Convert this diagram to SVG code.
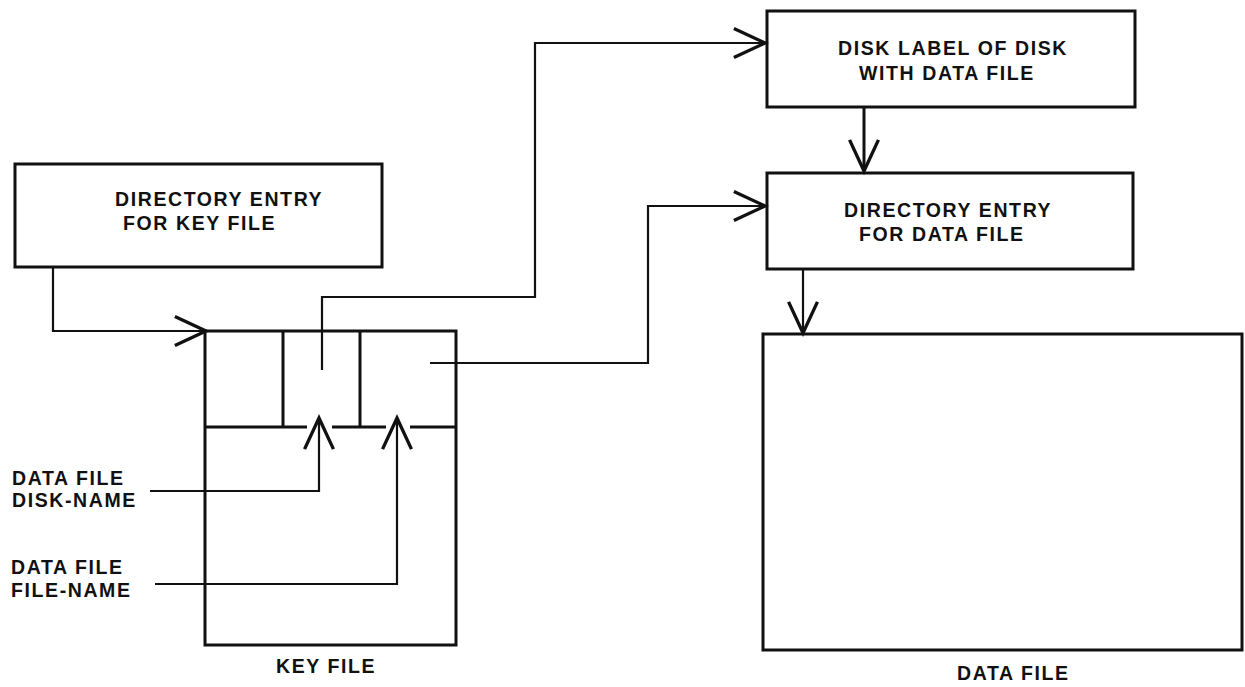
<svg xmlns="http://www.w3.org/2000/svg" width="1245" height="687" viewBox="0 0 1245 687">
  <style>
    .box { fill: none; stroke: #111; stroke-width: 3; }
    .wire { fill: none; stroke: #111; stroke-width: 2.2; }
    .lbl { font-family: "Liberation Sans", Arial, sans-serif; font-weight: bold; font-size: 19.5px; letter-spacing: 1.6px; fill: #111; }
  </style>
  <defs>
    <marker id="arr" markerUnits="userSpaceOnUse" markerWidth="40" markerHeight="40" viewBox="-32 -16 36 32" refX="0" refY="0" orient="auto" overflow="visible">
      <path d="M -28 -13 L 0 0 L -28 13" fill="none" stroke="#111" stroke-width="3"/>
    </marker>
  </defs>
  <rect width="1245" height="687" fill="#fff"/>

  <g id="dir-key">
    <rect class="box" x="15" y="164" width="367" height="103"/>
    <text class="lbl" x="115" y="206">DIRECTORY ENTRY</text>
    <text class="lbl" x="123" y="230">FOR KEY FILE</text>
  </g>

  <g id="disk-label">
    <rect class="box" x="767" y="11" width="368" height="96"/>
    <text class="lbl" x="838" y="55">DISK LABEL OF DISK</text>
    <text class="lbl" x="859" y="80">WITH DATA FILE</text>
  </g>

  <g id="dir-data">
    <rect class="box" x="767" y="173" width="366" height="96"/>
    <text class="lbl" x="844" y="217">DIRECTORY ENTRY</text>
    <text class="lbl" x="859" y="241">FOR DATA FILE</text>
  </g>

  <g id="key-file">
    <rect class="box" x="205" y="331" width="251" height="314"/>
    <line class="box" x1="283" y1="331" x2="283" y2="427"/>
    <line class="box" x1="360" y1="331" x2="360" y2="427"/>
    <line class="box" x1="205" y1="427" x2="307" y2="427"/>
    <line class="box" x1="332" y1="427" x2="386" y2="427"/>
    <line class="box" x1="410" y1="427" x2="456" y2="427"/>
    <text class="lbl" x="276" y="673">KEY FILE</text>
  </g>

  <g id="data-file">
    <rect class="box" x="763" y="334" width="479" height="316"/>
    <text class="lbl" x="957" y="680">DATA FILE</text>
  </g>

  <g id="labels">
    <text class="lbl" x="12" y="485">DATA FILE</text>
    <text class="lbl" x="12" y="507">DISK-NAME</text>
    <text class="lbl" x="11" y="574">DATA FILE</text>
    <text class="lbl" x="11" y="597">FILE-NAME</text>
  </g>

  <g id="connectors">
    <polyline class="wire" points="53,267 53,331 206,331" marker-end="url(#arr)"/>
    <polyline class="wire" points="322,370 322,297 535,297 535,43 765,43" marker-end="url(#arr)"/>
    <polyline class="wire" points="430,363 648,363 648,206 765,206" marker-end="url(#arr)"/>
    <polyline class="wire" points="150,491 319,491 319,418" marker-end="url(#arr)"/>
    <polyline class="wire" points="155,584 397,584 397,418" marker-end="url(#arr)"/>
    <line class="wire" style="stroke-width:3" x1="864" y1="107" x2="864" y2="171" marker-end="url(#arr)"/>
    <line class="wire" x1="803" y1="269" x2="803" y2="333" marker-end="url(#arr)"/>
  </g>
</svg>
